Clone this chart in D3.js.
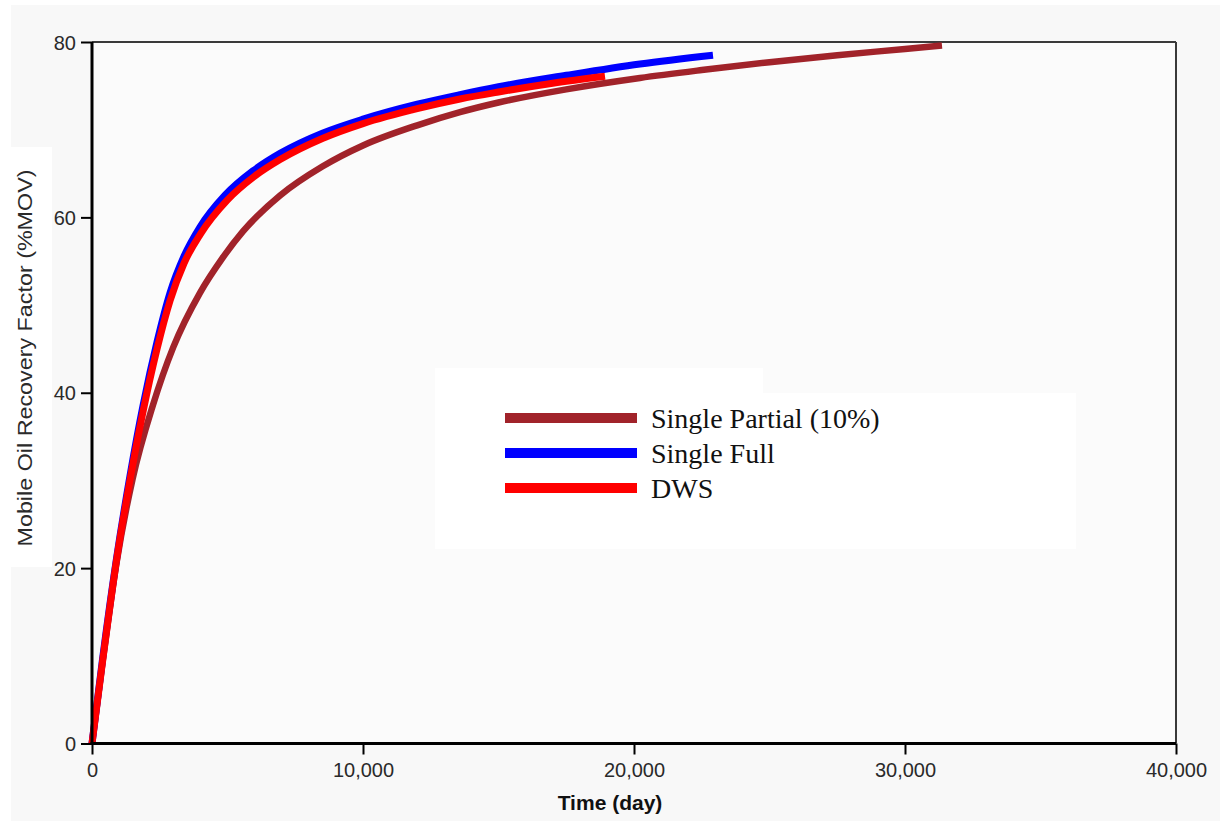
<!DOCTYPE html>
<html>
<head>
<meta charset="utf-8">
<script src="https://cdn.jsdelivr.net/npm/d3@7"></script>
<style>
  html, body { margin: 0; padding: 0; background: #f8f8f8; }
  svg { display: block; }
</style>
</head>
<body>
<svg id="chart" width="1220" height="821"></svg>
<script>
// Recovery curves: time in days, recovery in % of mobile oil volume
const partialTime  = [0, 400, 900, 1500, 2250, 3000, 3985, 4800, 5570, 6940, 8500, 10000, 12000, 13580, 15000, 17500, 20220, 22500, 25000, 27500, 30000, 31365];
const partialValue = [0, 9.5, 20.5, 30.2, 38.6, 45.2, 51.4, 55.3, 58.4, 62.5, 65.8, 68.2, 70.5, 72.0, 73.1, 74.6, 75.9, 76.8, 77.7, 78.5, 79.2, 79.6];

const fullTime  = [0, 400, 900, 1400, 1880, 2400, 2880, 3400, 3985, 4900, 5940, 6940, 8500, 10000, 12000, 13580, 15000, 17500, 20220, 22915];
const fullValue = [0, 9.9, 21.0, 30.5, 38.5, 45.8, 51.4, 55.6, 58.9, 62.5, 65.3, 67.3, 69.6, 71.2, 72.9, 74.0, 74.9, 76.2, 77.5, 78.5];

const dwsTime  = [0, 400, 900, 1400, 1880, 2400, 2880, 3400, 4000, 5000, 6000, 6940, 8500, 10000, 12000, 13580, 15000, 17000, 18930];
const dwsValue = [0, 9.6, 20.8, 30.0, 37.8, 45.0, 50.5, 54.8, 58.1, 62.0, 64.7, 66.6, 69.0, 70.7, 72.4, 73.5, 74.3, 75.3, 76.1];

const seriesNames  = ["Single Partial (10%)", "Single Full", "DWS"];
const seriesColors = ["#a1232a", "#0000ff", "#ff0000"];

const xTicks = [0, 10000, 20000, 30000, 40000];
const yTicks = [0, 20, 40, 60, 80];

const xTitle = "Time (day)";
const yTitle = "Mobile Oil Recovery Factor (%MOV)";

// ---- layout ----
const W = 1220, H = 821;
const plot = { left: 92, right: 1176, top: 42, bottom: 743.5 };

const svg = d3.select("#chart");

// page background with lighter margins
svg.append("rect").attr("width", W).attr("height", H).attr("fill", "#f8f8f8");
svg.append("rect").attr("x", 0).attr("y", 0).attr("width", W).attr("height", 5).attr("fill", "#ffffff");
svg.append("rect").attr("x", 0).attr("y", 0).attr("width", 11).attr("height", H).attr("fill", "#ffffff");
svg.append("rect").attr("x", 0).attr("y", 147).attr("width", 52).attr("height", 420).attr("fill", "#ffffff");

// plot area
svg.append("rect")
  .attr("x", plot.left).attr("y", plot.top)
  .attr("width", plot.right - plot.left).attr("height", plot.bottom - plot.top)
  .attr("fill", "#fbfbfb");

const x = d3.scaleLinear().domain([0, 40000]).range([plot.left, plot.right]);
const y = d3.scaleLinear().domain([0, 80]).range([plot.bottom, plot.top]);

// legend backdrop (white panel with stepped top edge)
const legendPanel = [
  [435, 368], [763, 368], [763, 393], [1076, 393], [1076, 549], [435, 549]
];
svg.append("path")
  .attr("d", d3.line()(legendPanel) + "Z")
  .attr("fill", "#ffffff");

// frame: top and right edges
svg.append("line")
  .attr("x1", plot.left).attr("x2", plot.right)
  .attr("y1", plot.top).attr("y2", plot.top)
  .attr("stroke", "#3a3a3a").attr("stroke-width", 2);
svg.append("line")
  .attr("x1", plot.right).attr("x2", plot.right)
  .attr("y1", plot.top).attr("y2", plot.bottom)
  .attr("stroke", "#3a3a3a").attr("stroke-width", 2);

// curves
const series = [
  { t: partialTime, v: partialValue, width: 6.5 },
  { t: fullTime, v: fullValue, width: 7 },
  { t: dwsTime, v: dwsValue, width: 7 }
];
const line = d3.line()
  .x(d => x(d[0]))
  .y(d => y(d[1]))
  .curve(d3.curveMonotoneX);

const curveLayer = svg.append("g");
series.forEach((s, i) => {
  curveLayer.append("path")
    .datum(s.t.map((t, k) => [t, s.v[k]]))
    .attr("d", line)
    .attr("fill", "none")
    .attr("stroke", seriesColors[i])
    .attr("stroke-width", s.width)
    .attr("stroke-linejoin", "round")
    .attr("stroke-linecap", "butt");
});

// axes
const tickFont = "'Liberation Sans', Arial, sans-serif";

const yAxis = svg.append("g")
  .attr("transform", `translate(${plot.left},0)`)
  .call(d3.axisLeft(y).tickValues(yTicks).tickSize(11).tickPadding(5).tickFormat(d3.format("d")));
const xAxis = svg.append("g")
  .attr("transform", `translate(0,${plot.bottom})`)
  .call(d3.axisBottom(x).tickValues(xTicks).tickSize(11).tickPadding(8).tickFormat(d3.format(",")));

[yAxis, xAxis].forEach(g => {
  g.select(".domain").attr("stroke", "#000").attr("stroke-width", 3);
  g.selectAll(".tick line").attr("stroke", "#000").attr("stroke-width", 2);
  g.selectAll(".tick text")
    .attr("fill", "#2a2a2a")
    .style("font-family", tickFont)
    .style("font-size", "20px");
});
yAxis.select(".domain").attr("d", `M0,${plot.top}V${plot.bottom + 1.5}`);
xAxis.select(".domain").attr("d", `M${plot.left - 1.5},0H${plot.right}`);
yAxis.selectAll(".tick text").attr("dy", "0.36em");
xAxis.selectAll(".tick text").attr("dy", "0.72em");

// axis titles
svg.append("text")
  .attr("x", 610).attr("y", 810)
  .attr("text-anchor", "middle")
  .style("font-family", "'Liberation Sans', Arial, sans-serif")
  .style("font-weight", "bold")
  .style("font-size", "21px")
  .attr("fill", "#111")
  .text(xTitle);

svg.append("text")
  .attr("transform", "translate(32,358) rotate(-90)")
  .attr("text-anchor", "middle")
  .attr("textLength", 377)
  .attr("lengthAdjust", "spacingAndGlyphs")
  .style("font-family", "'Liberation Sans', Arial, sans-serif")
  .style("font-size", "21px")
  .attr("fill", "#2a2a2a")
  .text(yTitle);

// legend
const legend = svg.append("g");
seriesNames.forEach((name, i) => {
  const cy = 418 + i * 35;
  legend.append("line")
    .attr("x1", 505).attr("x2", 637)
    .attr("y1", cy).attr("y2", cy)
    .attr("stroke", seriesColors[i])
    .attr("stroke-width", 10);
  legend.append("text")
    .attr("x", 651).attr("y", cy + 10)
    .style("font-family", "'Liberation Serif', 'Times New Roman', serif")
    .style("font-size", "28px")
    .attr("fill", "#111")
    .text(name);
});
</script>
</body>
</html>
